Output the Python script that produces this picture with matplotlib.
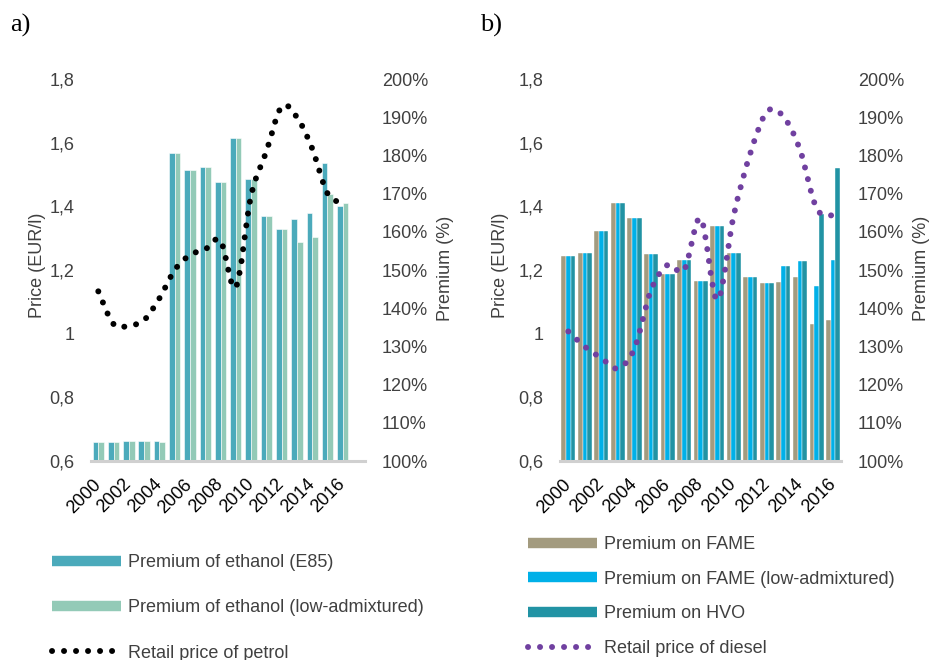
import numpy as np
import matplotlib.pyplot as plt
from matplotlib.path import Path
from matplotlib.patches import PathPatch
from matplotlib.lines import Line2D

plt.rcParams['font.family'] = ['Liberation Sans', 'DejaVu Sans']

years = list(range(2000, 2017))
year_labels = [str(y) if y % 2 == 0 else '' for y in years]

# a) petrol / ethanol
premium_e85 = [105.1, 105.1, 105.2, 105.3, 105.2, 180.5, 176.2, 176.9, 173.1,
               184.5, 173.7, 164.1, 160.7, 163.4, 164.8, 178.1, 166.8]
premium_eth_low = [105.1, 105.1, 105.2, 105.3, 105.0, 180.5, 176.2, 176.9, 173.1,
                   184.5, 173.7, 164.1, 160.7, 157.3, 158.6, 169.9, 167.5]
petrol_price = [1.133, 1.030, 1.025, 1.043, 1.111, 1.200, 1.247, 1.265, 1.292,
                1.146, 1.433, 1.572, 1.713, 1.680, 1.582, 1.441, 1.410]

# b) diesel / FAME / HVO
premium_fame = [153.7, 154.4, 160.2, 167.6, 163.7, 154.1, 149.0, 152.6, 147.1,
                161.5, 154.4, 148.1, 146.7, 146.9, 148.1, 135.8, 136.9]
premium_fame_low = [153.7, 154.4, 160.2, 167.6, 163.7, 154.1, 149.0, 152.6, 147.1,
                    161.5, 154.4, 148.1, 146.7, 151.1, 152.4, 145.7, 152.6]
premium_hvo = [153.7, 154.4, 160.2, 167.6, 163.7, 154.1, 149.0, 152.6, 147.1,
               161.5, 154.4, 148.1, 146.7, 151.1, 152.4, 164.6, 176.8]
diesel_price = [1.007, 0.959, 0.923, 0.891, 0.954, 1.137, 1.216, 1.200, 1.362,
                1.106, 1.373, 1.567, 1.697, 1.682, 1.577, 1.394, 1.371]

price_ticks = [0.6, 0.8, 1.0, 1.2, 1.4, 1.6, 1.8]
price_labels = ['0,6', '0,8', '1', '1,2', '1,4', '1,6', '1,8']
pct_ticks = list(range(100, 201, 10))
pct_labels = [f'{p}%' for p in pct_ticks]

C_E85 = '#4BAABB'
C_ETH_LOW = '#93CAB7'
C_FAME = '#A39B7F'
C_FAME_LOW = '#00B0E8'
C_HVO = '#2193A4'
C_PETROL = '#000000'
C_DIESEL = '#7040A0'
TXT = '#404040'
FS = 13
DOT_LW = 4.3
DOT_LS = (0, (0.01, 2.0))


def smooth_path(x, y):
    # Excel-like smoothed line as cubic bezier segments
    verts = [(x[0], y[0])]
    codes = [Path.MOVETO]
    n = len(x)
    for i in range(n - 1):
        ip, inn = max(i - 1, 0), min(i + 2, n - 1)
        c1 = (x[i] + (x[i + 1] - x[ip]) / 6, y[i] + (y[i + 1] - y[ip]) / 6)
        c2 = (x[i + 1] - (x[inn] - x[i]) / 6, y[i + 1] - (y[inn] - y[i]) / 6)
        verts += [c1, c2, (x[i + 1], y[i + 1])]
        codes += [Path.CURVE4] * 3
    return Path(verts, codes)


def style_axes(ax, ax2, xlim):
    ax.set_xlim(*xlim)
    ax.set_ylim(0.6, 1.8)
    ax2.set_ylim(100, 200)
    ax.set_yticks(price_ticks)
    ax.set_yticklabels(price_labels)
    ax2.set_yticks(pct_ticks)
    ax2.set_yticklabels(pct_labels)
    ax.set_xticks(range(len(years)))
    ax.set_xticklabels(year_labels, rotation=45, ha='right', va='center',
                       rotation_mode='anchor', fontsize=FS, color='black')
    ax.tick_params(axis='x', length=0, pad=15)
    ax.tick_params(axis='y', length=0, pad=12, labelsize=FS, labelcolor=TXT)
    ax2.tick_params(axis='y', length=0, pad=12, labelsize=FS, labelcolor=TXT)
    for a in (ax, ax2):
        for s in ('top', 'left', 'right'):
            a.spines[s].set_visible(False)
    ax.spines['bottom'].set_color('#D0D0D0')
    ax.spines['bottom'].set_linewidth(2.2)
    ax2.spines['bottom'].set_visible(False)
    ax.set_zorder(ax2.get_zorder() + 1)
    ax.patch.set_visible(False)


def dotted_line(ax, y, color):
    x = np.arange(len(y), dtype=float)
    patch = PathPatch(smooth_path(x, np.asarray(y, dtype=float)), fill=False,
                      edgecolor=color, linewidth=DOT_LW, linestyle=DOT_LS,
                      capstyle='round', zorder=5)
    ax.add_patch(patch)


fig = plt.figure(figsize=(9.34, 6.6), dpi=100)

# ---- a)
axa = fig.add_axes([0.0974, 0.3015, 0.2934, 0.5788])
axa2 = axa.twinx()
x = np.arange(len(years))
w = 0.37
axa2.bar(x - w / 2, premium_e85, w, color=C_E85, edgecolor='white', linewidth=0.4)
axa2.bar(x + w / 2, premium_eth_low, w, color=C_ETH_LOW, edgecolor='white', linewidth=0.4)
dotted_line(axa, petrol_price, C_PETROL)
style_axes(axa, axa2, (-0.48, 17.46))

# ---- b)
axb = fig.add_axes([0.5996, 0.3015, 0.3009, 0.5788])
axb2 = axb.twinx()
w = 0.283
axb2.bar(x - w, premium_fame, w, color=C_FAME, edgecolor='white', linewidth=0.3)
axb2.bar(x, premium_fame_low, w, color=C_FAME_LOW, edgecolor='white', linewidth=0.3)
axb2.bar(x + w, premium_hvo, w, color=C_HVO, edgecolor='white', linewidth=0.3)
dotted_line(axb, diesel_price, C_DIESEL)
style_axes(axb, axb2, (-0.5, 16.48))

# axis titles
for xp in (38, 500):
    fig.text(xp / 934, 1 - 265 / 660, 'Price (EUR/l)', rotation=90, ha='center',
             va='center', fontsize=FS, color=TXT)
for xp in (445, 922):
    fig.text(xp / 934, 1 - 268 / 660, 'Premium (%)', rotation=90, ha='center',
             va='center', fontsize=FS, color=TXT)

# panel letters
fig.text(10 / 934, 1 - 25 / 660, 'a)', fontsize=19, family='Liberation Serif', va='center')
fig.text(480 / 934, 1 - 25 / 660, 'b)', fontsize=19, family='Liberation Serif', va='center')


# legends
def bar_handle(color):
    return Line2D([], [], color=color, linewidth=7.5, solid_capstyle='butt')


def dot_handle(color):
    return Line2D([], [], color=color, linewidth=DOT_LW, linestyle=DOT_LS,
                  dash_capstyle='round')


leg_a = [bar_handle(C_E85), bar_handle(C_ETH_LOW), dot_handle(C_PETROL)]
fig.legend(leg_a, ['Premium of ethanol (E85)', 'Premium of ethanol (low-admixtured)',
                   'Retail price of petrol'],
           loc='upper left', bbox_to_anchor=(52 / 934, 1 - 554 / 660), frameon=False,
           fontsize=FS, handlelength=3.8, handletextpad=0.4, labelspacing=1.57,
           borderpad=0, borderaxespad=0, labelcolor=TXT)

leg_b = [bar_handle(C_FAME), bar_handle(C_FAME_LOW), bar_handle(C_HVO),
         dot_handle(C_DIESEL)]
fig.legend(leg_b, ['Premium on FAME', 'Premium on FAME (low-admixtured)',
                   'Premium on HVO', 'Retail price of diesel'],
           loc='upper left', bbox_to_anchor=(528 / 934, 1 - 536 / 660), frameon=False,
           fontsize=FS, handlelength=3.8, handletextpad=0.4, labelspacing=0.98,
           borderpad=0, borderaxespad=0, labelcolor=TXT)

fig.savefig('out.png', dpi=100)
